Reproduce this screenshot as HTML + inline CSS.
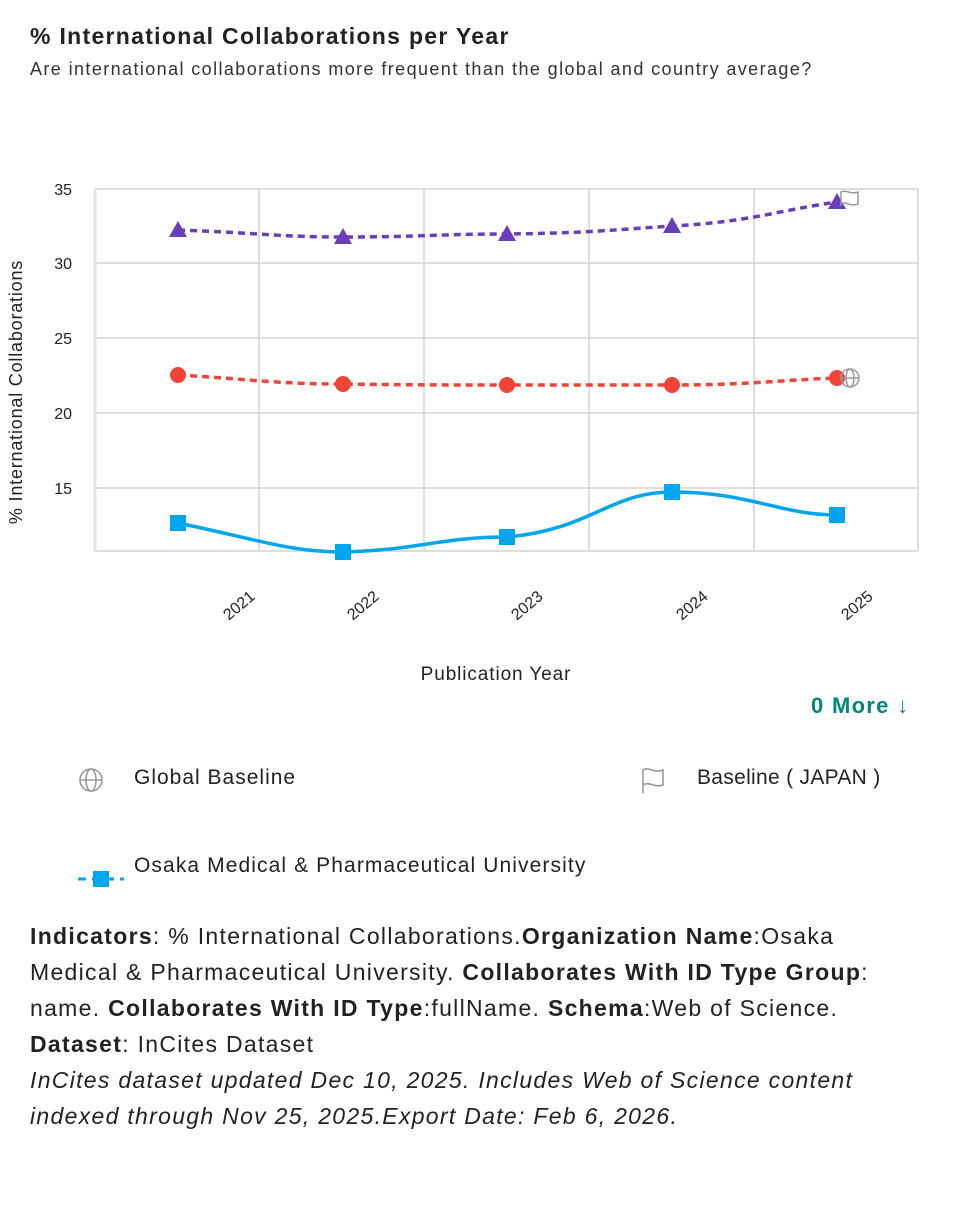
<!DOCTYPE html>
<html><head><meta charset="utf-8"><style>
body{margin:0;background:#fff;font-family:"Liberation Sans",sans-serif;color:#222;width:972px;height:1226px;position:relative;overflow:hidden}
.a{position:absolute;white-space:nowrap}
</style></head><body>
<div class="a" style="left:30px;top:23px;font-size:23px;font-weight:bold;letter-spacing:1.3px">% International Collaborations per Year</div>
<div class="a" style="left:30px;top:59px;font-size:18px;color:#333;letter-spacing:1.4px">Are international collaborations more frequent than the global and country average?</div>
<svg class="a" style="left:0;top:0" width="972" height="720">
<g stroke="#d4d4d4" stroke-width="1.5">
<line x1="95" y1="189" x2="918" y2="189"/><line x1="95" y1="263" x2="918" y2="263"/><line x1="95" y1="338" x2="918" y2="338"/><line x1="95" y1="413" x2="918" y2="413"/><line x1="95" y1="488" x2="918" y2="488"/><line x1="95" y1="551" x2="918" y2="551"/>
<line x1="259" y1="189" x2="259" y2="551"/><line x1="424" y1="189" x2="424" y2="551"/><line x1="589" y1="189" x2="589" y2="551"/><line x1="754" y1="189" x2="754" y2="551"/><line x1="918" y1="189" x2="918" y2="551"/>
</g>
<line x1="95" y1="189" x2="95" y2="552" stroke="#dde4ea" stroke-width="3"/>
<g font-size="16" fill="#222" text-anchor="end"><text x="72" y="195">35</text><text x="72" y="269">30</text><text x="72" y="344">25</text><text x="72" y="419">20</text><text x="72" y="494">15</text></g>
<text transform="translate(22,392) rotate(-90)" font-size="18" text-anchor="middle" fill="#222" letter-spacing="0.8">% International Collaborations</text>
<g font-size="16" fill="#222" text-anchor="end">
<text transform="translate(256,598) rotate(-40)">2021</text><text transform="translate(380,598) rotate(-40)">2022</text><text transform="translate(544,598) rotate(-40)">2023</text><text transform="translate(709,598) rotate(-40)">2024</text><text transform="translate(874,598) rotate(-40)">2025</text>
</g>
<text x="496" y="680" font-size="19" text-anchor="middle" fill="#222" letter-spacing="0.9">Publication Year</text>
<path d="M178,230 C260,233 280,237 343,237 C420,237 440,234 507,234 C590,233 610,230 672,226 C750,222 780,210 837,202" fill="none" stroke="#6a3dbd" stroke-width="3.5" stroke-dasharray="7,5"/>
<path d="M178,375 C260,380 280,384 343,384 C420,385 440,385 507,385 C590,385 610,385 672,385 C750,385 780,380 837,378" fill="none" stroke="#f14336" stroke-width="3.5" stroke-dasharray="7,5"/>
<path d="M178,523 C260,540 290,552 343,552 C420,550 440,537 507,537 C590,530 610,492 672,492 C750,492 780,515 837,515" fill="none" stroke="#00a6ed" stroke-width="3.5"/>
<g fill="#6a3dbd"><path d="M178,221 l9,16 h-18z"/><path d="M343,228 l9,16 h-18z"/><path d="M507,225 l9,16 h-18z"/><path d="M672,217 l9,16 h-18z"/><path d="M837,193 l9,16 h-18z"/></g>
<g fill="#f14336"><circle cx="178" cy="375" r="8"/><circle cx="343" cy="384" r="8"/><circle cx="507" cy="385" r="8"/><circle cx="672" cy="385" r="8"/><circle cx="837" cy="378" r="8"/></g>
<g fill="#00a6ed"><rect x="170" y="515" width="16" height="16"/><rect x="335" y="544" width="16" height="16"/><rect x="499" y="529" width="16" height="16"/><rect x="664" y="484" width="16" height="16"/><rect x="829" y="507" width="16" height="16"/></g>
<g fill="none" stroke="#999" stroke-width="1.5"><path d="M841,206 V192 C846,189 850,195 858,192 V204 C850,207 846,201 841,204"/><circle cx="850" cy="378" r="9"/><ellipse cx="850" cy="378" rx="4" ry="9"/><line x1="841" y1="378" x2="859" y2="378"/></g>
</svg>
<div class="a" style="left:811px;top:693px;font-size:22px;font-weight:bold;color:#00857f;letter-spacing:1.3px">0 More ↓</div>
<svg class="a" style="left:76px;top:765px" width="30" height="30"><g fill="none" stroke="#999" stroke-width="1.6"><circle cx="15" cy="15" r="11"/><ellipse cx="15" cy="15" rx="5" ry="11"/><line x1="4" y1="15" x2="26" y2="15"/></g></svg>
<div class="a" style="left:134px;top:766px;font-size:21px;letter-spacing:1px">Global Baseline</div>
<svg class="a" style="left:638px;top:765px" width="30" height="30"><path d="M5,28 V5 C11,1 16,9 25,5 V20 C16,23 11,16 5,20" fill="none" stroke="#999" stroke-width="1.6"/></svg>
<div class="a" style="left:697px;top:766px;font-size:21px;letter-spacing:0.3px">Baseline ( JAPAN )</div>
<svg class="a" style="left:76px;top:866px" width="50" height="24"><line x1="2" y1="13" x2="48" y2="13" stroke="#00a6ed" stroke-width="3" stroke-dasharray="8,6"/><rect x="17" y="5" width="16" height="16" fill="#00a6ed"/></svg>
<div class="a" style="left:134px;top:854px;font-size:21px;letter-spacing:1.1px">Osaka Medical &amp; Pharmaceutical University</div>
<div class="a" style="left:30px;top:918px;font-size:23px;line-height:36px;color:#222;letter-spacing:1.3px"><b>Indicators</b>: % International Collaborations.<b>Organization Name</b>:Osaka<br>Medical &amp; Pharmaceutical University. <b>Collaborates With ID Type Group</b>:<br>name. <b>Collaborates With ID Type</b>:fullName. <b>Schema</b>:Web of Science.<br><b>Dataset</b>: InCites Dataset<br><i>InCites dataset updated Dec 10, 2025. Includes Web of Science content<br>indexed through Nov 25, 2025.Export Date: Feb 6, 2026.</i></div>
</body></html>
